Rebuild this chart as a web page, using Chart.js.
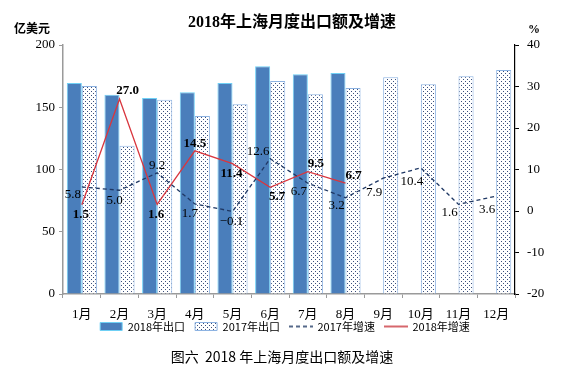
<!DOCTYPE html>
<html>
<head>
<meta charset="utf-8">
<script src="https://cdn.jsdelivr.net/npm/chart.js@4/dist/chart.umd.min.js"></script>
<style>
  html, body { margin: 0; padding: 0; background: #fff; }
  #wrap { width: 570px; height: 373px; }
</style>
</head>
<body>
<div id="wrap"><canvas id="chartjs" width="570" height="373"></canvas></div>
<script>
// data
const months = ['1月', '2月', '3月', '4月', '5月', '6月', '7月', '8月', '9月', '10月', '11月', '12月'];
const export2018 = [169.5, 160, 157.5, 162, 169.5, 183, 176.5, 177.5, null, null, null, null];
const export2017 = [167, 119, 156, 143, 152.5, 171, 160.5, 165.5, 174, 168.5, 175, 180];
const growth2017 = [5.8, 5.0, 9.2, 1.7, -0.1, 12.6, 6.7, 3.2, 7.9, 10.4, 1.6, 3.6];
const growth2018 = [1.5, 27.0, 1.6, 14.5, 11.4, 5.7, 9.5, 6.7, null, null, null, null];
const leftTicks = [0, 50, 100, 150, 200];
const rightTicks = [-20, -10, 0, 10, 20, 30, 40];

// where each value label sits relative to its point
const place2017 = ['lb', 'bl', 't', 'bl', 'b', 'lt', 'lb', 'lb', 'lb2', 'lb2', 'lb', 'lb2'];
const place2018 = ['b', 'rt', 'b', 't', 'b', 'rb', 'rt', 'rt'];

const serif = "'Times New Roman', 'Liberation Serif', 'Noto Sans CJK SC', serif";
const sans = "'Noto Sans CJK SC', 'DejaVu Sans', sans-serif";

function dotPattern() {
  const c = document.createElement('canvas');
  c.width = 4; c.height = 4;
  const g = c.getContext('2d');
  g.fillStyle = '#ffffff';
  g.fillRect(0, 0, 4, 4);
  g.fillStyle = '#3b4f7c';
  g.fillRect(1, 1, 1, 1);
  g.fillRect(3, 3, 1, 1);
  return g.createPattern(c, 'repeat');
}

// small canvas used as legend symbol for the lines
function lineIcon(color, dash) {
  const c = document.createElement('canvas');
  c.width = 24; c.height = 6;
  const g = c.getContext('2d');
  g.strokeStyle = color;
  g.lineWidth = 1.3;
  g.setLineDash(dash);
  g.beginPath();
  g.moveTo(0, 3);
  g.lineTo(24, 3);
  g.stroke();
  return c;
}

const offsets = {
  b: [-1, 10], t: [0, -7], lb: [-9, 8], lb2: [-9, 14], bl: [-5, 10],
  lt: [-12, -7], rt: [8, -8], rb: [7, 9]
};

const textPlugin = {
  id: 'texts',
  afterLayout(chart) {
    // pull the legend up under the month labels
    const lg = chart.legend;
    if (lg) { lg.top -= 12; lg.bottom -= 12; }
  },
  afterDatasetsDraw(chart) {
    const ctx = chart.ctx;
    ctx.save();
    ctx.textAlign = 'center';
    ctx.textBaseline = 'middle';
    ctx.fillStyle = '#000';
    [[2, place2017, false], [3, place2018, true]].forEach(([di, places, bold]) => {
      const meta = chart.getDatasetMeta(di);
      const vals = chart.data.datasets[di].data;
      ctx.font = (bold ? 'bold ' : '') + '13px ' + serif;
      meta.data.forEach((pt, i) => {
        if (vals[i] === null) return;
        const o = offsets[places[i]];
        const s = vals[i] < 0 ? '\u2212' + Math.abs(vals[i]).toFixed(1) : vals[i].toFixed(1);
        ctx.fillText(s, pt.x + o[0], pt.y + o[1]);
      });
    });
    ctx.restore();
  },
  afterDraw(chart) {
    const ctx = chart.ctx;
    ctx.save();
    ctx.fillStyle = '#000';
    ctx.textBaseline = 'middle';
    ctx.textAlign = 'center';
    ctx.font = 'bold 16px ' + serif;
    ctx.fillText('2018年上海月度出口额及增速', 292, 23);
    ctx.font = 'bold 12px ' + sans;
    ctx.fillText('亿美元', 32, 28);
    ctx.font = 'bold 12px ' + serif;
    ctx.fillText('%', 534, 30);
    ctx.font = '14px ' + sans;
    ctx.fillText('图六  2018 年上海月度出口额及增速', 282, 357);
    ctx.restore();
  }
};

new Chart(document.getElementById('chartjs').getContext('2d'), {
  type: 'bar',
  data: {
    labels: months,
    datasets: [
      {
        label: '2018年出口',
        data: export2018,
        backgroundColor: '#4a7ebb',
        borderColor: '#6fd0f5',
        borderWidth: 1,
        yAxisID: 'y',
        order: 1,
        categoryPercentage: 0.8,
        barPercentage: 1.0
      },
      {
        label: '2017年出口',
        data: export2017,
        backgroundColor: dotPattern(),
        borderColor: '#8db3e2',
        borderWidth: 1,
        yAxisID: 'y',
        order: 1,
        categoryPercentage: 0.8,
        barPercentage: 1.0
      },
      {
        type: 'line',
        label: '2017年增速',
        data: growth2017,
        borderColor: '#1f3864',
        backgroundColor: '#1f3864',
        borderWidth: 1.3,
        borderDash: [4, 3],
        pointRadius: 0,
        tension: 0,
        yAxisID: 'y1',
        order: 0
      },
      {
        type: 'line',
        label: '2018年增速',
        data: growth2018,
        borderColor: '#d9363e',
        backgroundColor: '#d9363e',
        borderWidth: 1.3,
        pointRadius: 0,
        tension: 0,
        yAxisID: 'y1',
        order: 0
      }
    ]
  },
  options: {
    responsive: false,
    animation: false,
    layout: { padding: { top: 45, bottom: 19, left: 0, right: 0 } },
    plugins: {
      title: { display: false },
      tooltip: { enabled: false },
      legend: {
        position: 'bottom',
        labels: {
          color: '#000',
          font: { family: sans, size: 11 },
          usePointStyle: true,
          pointStyleWidth: 22,
          boxWidth: 22,
          boxHeight: 8,
          padding: 10,
          sort: (a, b) => a.datasetIndex - b.datasetIndex,
          generateLabels(chart) {
            const items = Chart.defaults.plugins.legend.labels.generateLabels(chart);
            items.forEach(it => {
              const ds = chart.data.datasets[it.datasetIndex];
              if (ds.type === 'line') {
                it.pointStyle = lineIcon(ds.borderColor === '#d9363e' ? '#c0151c' : ds.borderColor, ds.borderDash || []);
              } else {
                it.pointStyle = 'rect';
              }
              it.lineWidth = 1;
            });
            return items;
          }
        }
      }
    },
    scales: {
      x: {
        offset: true,
        afterFit: s => { s.height = 29; },
        grid: { display: true, drawOnChartArea: false, drawTicks: true, tickLength: 4, color: '#9a9a9a', offset: true },
        border: { color: '#9a9a9a', width: 1.5 },
        ticks: { color: '#000', font: { family: serif, size: 13 }, padding: 9, maxRotation: 0 }
      },
      y: {
        position: 'left',
        min: 0,
        max: 200,
        afterBuildTicks: s => { s.ticks = leftTicks.map(v => ({ value: v })); },
        afterFit: s => { s.width = 63; },
        grid: { drawOnChartArea: false, tickLength: 4, color: '#9a9a9a' },
        border: { color: '#9a9a9a', width: 1.5 },
        ticks: { color: '#000', font: { family: serif, size: 13 }, padding: 4 }
      },
      y1: {
        position: 'right',
        min: -20,
        max: 40,
        afterBuildTicks: s => { s.ticks = rightTicks.map(v => ({ value: v })); },
        afterFit: s => { s.width = 55; },
        grid: { drawOnChartArea: false, tickLength: 4, color: '#000' },
        border: { color: '#000', width: 1.2 },
        ticks: { color: '#000', font: { family: serif, size: 13 }, padding: 8 }
      }
    }
  },
  plugins: [textPlugin]
});
</script>
</body>
</html>
